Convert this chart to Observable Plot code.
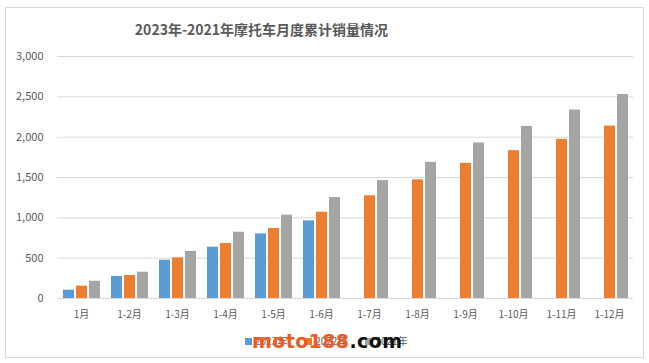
<!DOCTYPE html>
<html>
<head>
<meta charset="utf-8">
<script src="https://cdn.jsdelivr.net/npm/d3@7"></script>
<script src="https://cdn.jsdelivr.net/npm/@observablehq/plot@0.6"></script>
<style>
  html, body { margin: 0; padding: 0; background: #fff; }
  #wrap { position: relative; width: 649px; height: 363px; overflow: hidden; font-family: "Noto Sans CJK SC", "Noto Sans", sans-serif; }
  #frame { position: absolute; left: 5px; top: 7px; width: 637px; height: 349px; border: 1px solid #d9d9d9; }
  #title { position: absolute; left: 0; width: 523px; top: 19px; text-align: center; font-size: 14px; font-weight: bold; color: #595959; }
  #chart { position: absolute; left: 0; top: 0; }
  #legend { position: absolute; left: 245px; top: 333px; font-size: 10px; color: #595959; white-space: nowrap; display: flex; gap: 18px; }
  #legend span.sw { display: inline-block; width: 7px; height: 7px; margin-right: 3px; vertical-align: 0px; }
  #wm { position: absolute; left: 252px; top: 332px; font-family: "DejaVu Sans", sans-serif; font-weight: bold; font-size: 19px; letter-spacing: 0.4px; white-space: nowrap; line-height: 19px; }
</style>
</head>
<body>
<div id="wrap">
  <div id="frame"></div>
  <div id="chart"></div>
  <div id="title"></div>
  <div id="legend"></div>
  <div id="wm"><span style="color:#f05a22">moto188</span><span style="color:#111">.com</span></div>
</div>
<script>
const titleText = "2023年-2021年摩托车月度累计销量情况";
const months = ["1月","1-2月","1-3月","1-4月","1-5月","1-6月","1-7月","1-8月","1-9月","1-10月","1-11月","1-12月"];
const years = ["2023年","2022年","2021年"];
const colors = ["#5b9bd5","#ed7d31","#a5a5a5"];
const values2023 = [103, 273, 475, 636, 801, 962];
const values2022 = [153, 285, 504, 682, 868, 1070, 1273, 1471, 1676, 1833, 1973, 2138];
const values2021 = [214, 326, 583, 822, 1033, 1252, 1462, 1688, 1928, 2133, 2336, 2529];
const yTicks = [0, 500, 1000, 1500, 2000, 2500, 3000];

const series = [values2023, values2022, values2021];
const data = [];
series.forEach((vals, i) => vals.forEach((v, j) => data.push({month: months[j], year: years[i], value: v})));

document.getElementById("title").textContent = titleText;
const legend = document.getElementById("legend");
years.forEach((y, i) => {
  const item = document.createElement("div");
  item.innerHTML = `<span class="sw" style="background:${colors[i]}"></span>${y}`;
  legend.appendChild(item);
});

const chart = Plot.plot({
  width: 649,
  height: 363,
  marginTop: 56,
  marginBottom: 65,
  marginLeft: 56,
  marginRight: 16,
  style: {fontFamily: "'Noto Sans CJK SC', 'Noto Sans', sans-serif", fontSize: "10px", color: "#595959", background: "transparent"},
  fx: {domain: months, padding: 0},
  x: {domain: years, paddingInner: 0.19, paddingOuter: 0.41, axis: null},
  y: {domain: [0, 3000]},
  color: {domain: years, range: colors},
  marks: [
    Plot.ruleY(yTicks, {stroke: "#d9d9d9", strokeWidth: 1}),
    Plot.barY(data, {fx: "month", x: "year", y: "value", fill: "year"}),
    Plot.axisY({ticks: yTicks, tickFormat: d3.format(","), tickSize: 0, tickPadding: 14, fontSize: 11, label: null}),
    Plot.axisFx({anchor: "bottom", tickSize: 0, tickPadding: 12, fontSize: 10, label: null})
  ]
});
document.getElementById("chart").appendChild(chart);
</script>
</body>
</html>
